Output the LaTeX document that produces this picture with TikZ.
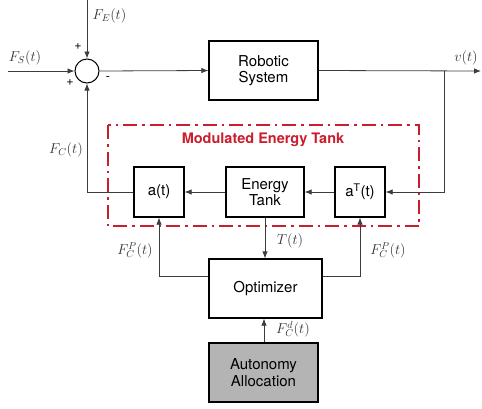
\documentclass[tikz,border=0pt]{standalone}
\usepackage{fontspec}
\setmainfont{TeX Gyre Heros}
\usetikzlibrary{arrows.meta,shadows}
\definecolor{tankred}{RGB}{200,30,45}
\definecolor{autogray}{RGB}{180,180,180}
\definecolor{linegray}{RGB}{60,60,60}
\tikzset{
  blk/.style={draw=black, line width=1.3pt, fill=white, align=center, inner sep=0pt,
    font=\fontsize{15}{16.5}\selectfont,
    drop shadow={shadow xshift=1.2pt, shadow yshift=-1.2pt, opacity=0.25}},
  conn/.style={draw=linegray, line width=0.8pt},
  arr/.style={conn, -{Latex[length=7pt,width=5.5pt]}},
  lbl/.style={font=\fontsize{14}{14}\selectfont, text=black!80, inner sep=0pt},
  sgn/.style={font=\fontsize{12.5}{12.5}\selectfont, inner sep=0pt}
}
\begin{document}
\begin{tikzpicture}[x=1pt,y=-1pt]
\useasboundingbox (0,0) rectangle (482,408);
% red tank frame
\draw[tankred, line width=2.2pt, dash pattern=on 14pt off 5pt on 2.5pt off 5pt]
  (108,125) rectangle (419,226);
\node[font=\fontsize{14.5}{15}\bfseries, text=tankred] (title) at (263,140) {Modulated Energy Tank};
% sum
\node[draw=black, line width=1pt, circle, minimum size=24pt, inner sep=0pt, fill=white] (sum) at (87,71) {};
% blocks
\node[blk, minimum width=109pt, minimum height=59pt] (robot) at (263.5,70.5) {Robotic\\System};
\node[blk, minimum width=50pt, minimum height=50pt] (a) at (159,192) {a(t)};
\node[blk, minimum width=78pt, minimum height=50pt] (tank) at (265,192) {Energy\\Tank};
\node[blk, minimum width=50pt, minimum height=50pt] (aT) at (360,192) {a\textsuperscript{T}(t)};
\node[blk, minimum width=113pt, minimum height=59pt] (opt) at (265.5,288.5) {Optimizer};
\node[blk, fill=autogray, minimum width=109pt, minimum height=59pt] (auto) at (263.5,372.5) {Autonomy\\Allocation};
% free ends
\coordinate (FEin) at (87,0);
\coordinate (FSin) at (8,71);
\coordinate (vout) at (481,71);
\coordinate (br) at (444,71);
% connectors
\draw[arr] (FEin) -- (sum.north);
\draw[arr] (FSin) -- (sum.west);
\draw[arr] (sum.east) -- (robot.west);
\draw[arr] (robot.east) -- (vout);
\draw[arr] (br) |- (aT.east);
\draw[arr] (aT.west) -- (tank.east);
\draw[arr] (tank.west) -- (a.east);
\draw[arr] (a.west) -| (sum.south);
\draw[arr] (tank.south) -- (opt.north -| tank.south);
\draw[arr] (opt.west |- 0,276) -| (a.south);
\draw[arr] (opt.east |- 0,276) -| (aT.south);
\draw[arr] (auto.north -| 264,0) -- (opt.south -| 264,0);
% labels
\node[lbl] (lFE) at (109.5,16) {$F_E(t)$};
\node[lbl] (lFS) at (25,58) {$F_S(t)$};
\node[lbl] (lv) at (466,58) {$v(t)$};
\node[lbl] (lFC) at (66,150) {$F_C(t)$};
\node[lbl] (lT) at (290,241) {$T(t)$};
\node[lbl] (lFPl) at (135,250) {$F_C^P(t)$};
\node[lbl] (lFPr) at (388,250) {$F_C^P(t)$};
\node[lbl] (lFd) at (293,329) {$F_C^d(t)$};
\node[sgn] (p1) at (78,47) {+};
\node[sgn] (p2) at (70,83) {+};
\node[sgn] (m1) at (108,79) {-};
\end{tikzpicture}
\end{document}
